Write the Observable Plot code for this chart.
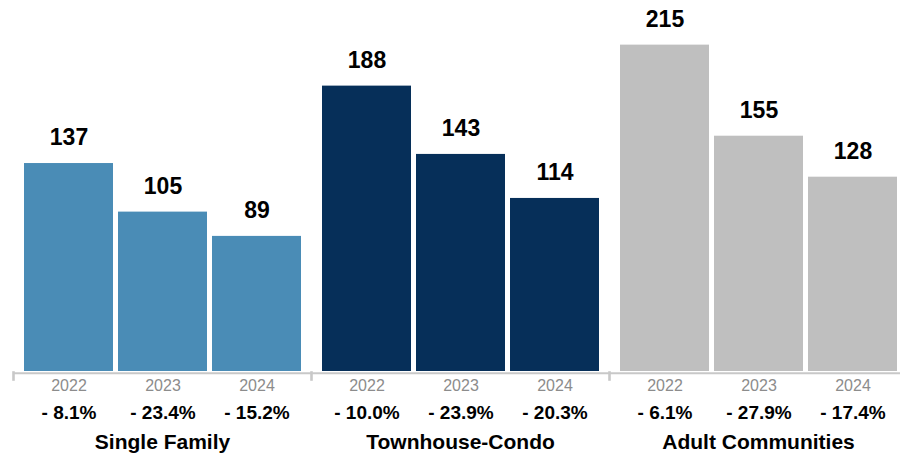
<!DOCTYPE html>
<html>
<head>
<meta charset="utf-8">
<script src="https://cdn.jsdelivr.net/npm/d3@7"></script>
<script src="https://cdn.jsdelivr.net/npm/@observablehq/plot@0.6"></script>
<style>
  html, body { margin: 0; padding: 0; background: #fff; overflow: hidden; }
  #chart svg { display: block; }
</style>
</head>
<body>
<div id="chart"></div>
<script>
const groups = ["Single Family", "Townhouse-Condo", "Adult Communities"];
const years = ["2022", "2023", "2024"];
const singleFamily = [137, 105, 89];
const townhouseCondo = [188, 143, 114];
const adultCommunities = [215, 155, 128];
const pctSingleFamily = ["- 8.1%", "- 23.4%", "- 15.2%"];
const pctTownhouseCondo = ["- 10.0%", "- 23.9%", "- 20.3%"];
const pctAdultCommunities = ["- 6.1%", "- 27.9%", "- 17.4%"];
const groupColors = ["#4a8cb6", "#062f59", "#bfbfbf"];

const values = [singleFamily, townhouseCondo, adultCommunities];
const pcts = [pctSingleFamily, pctTownhouseCondo, pctAdultCommunities];
const rows = [];
groups.forEach((g, gi) => {
  years.forEach((y, yi) => {
    rows.push({group: g, year: y, value: values[gi][yi], pct: pcts[gi][yi]});
  });
});

const font = "'Liberation Sans', Arial, Helvetica, sans-serif";

const chart = Plot.plot({
  width: 900,
  height: 458,
  marginTop: 0,
  marginBottom: 87,
  marginLeft: 13,
  marginRight: -7,
  style: {fontFamily: font, background: "#fff", overflow: "visible"},
  fx: {domain: groups, padding: 0, axis: null, label: null},
  x: {domain: years, paddingInner: 0.058, paddingOuter: 0.114, axis: null, label: null},
  y: {domain: [0, 244.4], axis: null, label: null},
  color: {domain: groups, range: groupColors},
  marks: [
    Plot.barY(rows, {fx: "group", x: "year", y: "value", fill: "group"}),
    Plot.ruleY([0], {stroke: "#c8c8c8", strokeWidth: 2, dy: 1.7}),
    Plot.frame({anchor: "left", stroke: "#c8c8c8", strokeWidth: 2.6, insetTop: 364, dy: 8}),
    Plot.text(rows, {fx: "group", x: "year", y: "value", text: d => String(d.value),
      dy: -25.5, lineAnchor: "middle", fontSize: 23, fontWeight: "bold", fill: "#000"}),
    Plot.text(rows, {fx: "group", x: "year", text: "year", frameAnchor: "bottom",
      dy: 14.8, lineAnchor: "middle", fontSize: 16, fill: "#8c8c8c"}),
    Plot.text(rows, {fx: "group", x: "year", text: "pct", frameAnchor: "bottom",
      dy: 41.5, lineAnchor: "middle", fontSize: 19, fontWeight: "bold", fill: "#000"}),
    Plot.text(groups, {fx: d => d, text: d => d, frameAnchor: "bottom",
      dy: 71, lineAnchor: "middle", fontSize: 21, fontWeight: "bold", fill: "#000"})
  ]
});
document.getElementById("chart").appendChild(chart);
</script>
</body>
</html>
